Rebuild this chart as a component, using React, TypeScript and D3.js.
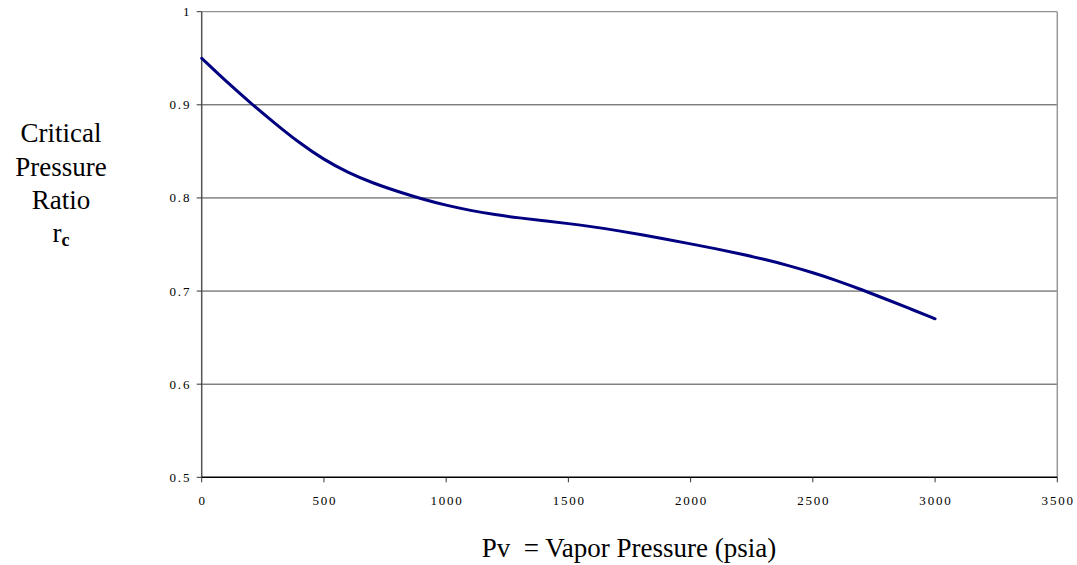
import React from "react";
import * as d3 from "d3";

const pressure = [0, 100, 200, 300, 400, 500, 600, 700, 800, 900, 1000, 1100, 1200, 1300, 1400, 1500, 1600, 1700, 1800, 1900, 2000, 2100, 2200, 2300, 2400, 2500, 2600, 2700, 2800, 2900, 3000];
const ratio = [0.95, 0.925, 0.902, 0.88, 0.859, 0.841, 0.827, 0.816, 0.807, 0.799, 0.792, 0.7865, 0.782, 0.7785, 0.7755, 0.7725, 0.769, 0.765, 0.7605, 0.7557, 0.7507, 0.7456, 0.7402, 0.7342, 0.7275, 0.7198, 0.7112, 0.7015, 0.6912, 0.6808, 0.6702];
const xTicks = [0, 500, 1000, 1500, 2000, 2500, 3000, 3500];
const yTicks = [0.5, 0.6, 0.7, 0.8, 0.9, 1];
const yTitleLines = ["Critical", "Pressure", "Ratio"];

const W = 1077;
const H = 565;
const left = 201.7;
const right = 1057.3;
const top = 11.7;
const bottom = 477.3;
const serifStyle = { fontFamily: '"Liberation Serif", "DejaVu Serif", serif' };
const tickStyle = { ...serifStyle, letterSpacing: "1.8px" };

export default function App() {
  const x = d3.scaleLinear().domain([0, 3500]).range([left, right]);
  const y = d3.scaleLinear().domain([0.5, 1]).range([bottom, top]);
  const pts: [number, number][] = pressure.map((p, i) => [p, ratio[i]]);
  const line = d3
    .line<[number, number]>()
    .x((d) => x(d[0]))
    .y((d) => y(d[1]))
    .curve(d3.curveBasis);

  return (
    <svg width={W} height={H} style={{ position: "absolute", left: 0, top: 0, background: "#fff" }}>
      {yTicks.filter((t) => t > 0.5 && t < 1).map((t) => (
        <line key={"g" + t} x1={left} x2={right} y1={y(t)} y2={y(t)} stroke="#444" strokeWidth={1} />
      ))}
      <line x1={left} x2={right} y1={top} y2={top} stroke="#777" strokeWidth={1} />
      <line x1={right} x2={right} y1={top} y2={bottom} stroke="#999" strokeWidth={1.5} />
      <line x1={left} x2={left} y1={top} y2={bottom} stroke="#555" strokeWidth={1.5} />
      {yTicks.map((t) => (
        <g key={"y" + t}>
          <line x1={left - 5} x2={left} y1={y(t)} y2={y(t)} stroke="#333" strokeWidth={1} />
          <text x={left - 10.5} y={y(t)} dy="0.35em" textAnchor="end" style={tickStyle} fontSize={13} fill="#000">
            {String(t)}
          </text>
        </g>
      ))}
      <line x1={left} x2={right} y1={bottom} y2={bottom} stroke="#000" strokeWidth={1.5} />
      {xTicks.map((t) => (
        <g key={"x" + t}>
          <line x1={x(t)} x2={x(t)} y1={bottom} y2={bottom + 5} stroke="#333" strokeWidth={1} />
          <text x={x(t) + 0.9} y={bottom + 27.7} textAnchor="middle" style={tickStyle} fontSize={13} fill="#000">
            {String(t)}
          </text>
        </g>
      ))}
      <path d={line(pts) || ""} fill="none" stroke="#000080" strokeWidth={3} strokeLinecap="round" />
      {yTitleLines.map((s, i) => (
        <text key={s} x={61} y={142 + i * 33.5} textAnchor="middle" style={serifStyle} fontSize={27} fill="#000">
          {s}
        </text>
      ))}
      <text x={61} y={242} textAnchor="middle" style={serifStyle} fontSize={27} fill="#000">
        r<tspan fontSize={18} fontWeight="bold" dy={4}>c</tspan>
      </text>
      <text x={629} y={557} textAnchor="middle" style={{ ...serifStyle, whiteSpace: "pre" }} fontSize={27} fill="#000">
        {"Pv  = Vapor Pressure (psia)"}
      </text>
    </svg>
  );
}
